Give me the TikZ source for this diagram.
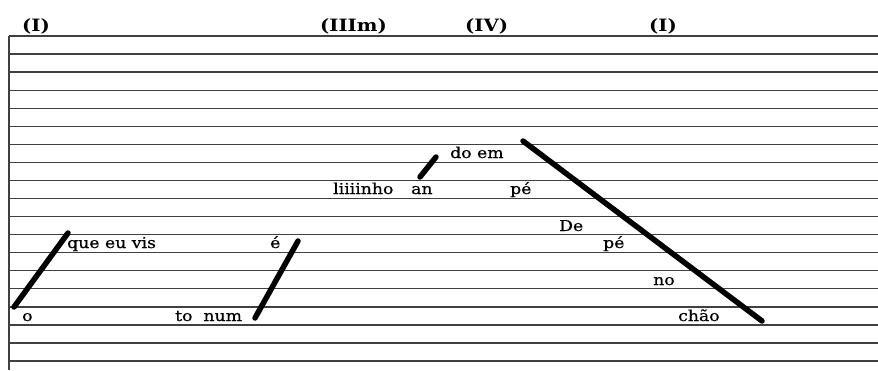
\documentclass[tikz,border=0pt]{standalone}
\usepackage{fontspec}
\newfontfamily\wfont[FakeStretch=1.15,FakeBold=0.6]{DejaVu Serif}
\newfontfamily\hfont[FakeStretch=1.15]{DejaVu Serif}
\begin{document}
\begin{tikzpicture}[x=1pt,y=-1pt,
  word/.style={font=\wfont\fontsize{15}{15}\selectfont, anchor=base west, inner sep=0pt},
  head/.style={font=\hfont\bfseries\fontsize{17}{17}\selectfont, anchor=base west, inner sep=0pt},
  rule/.style={black!75, line width=1.3pt},
  stroke/.style={line width=5.5pt, line cap=round}]
\useasboundingbox (0,0) rectangle (878,370);
\fill[white] (0,0) rectangle (878,370);
\foreach \k in {0,...,18} \draw[rule] (9,{36+18.06*\k}) -- (878,{36+18.06*\k});
\draw[rule] (9,36) -- (9,370);
% headers
\node[head] (hIa) at (22,31) {(I)};
\node[head] (hIII) at (320,31) {(IIIm)};
\node[head] (hIV) at (465,31) {(IV)};
\node[head] (hIb) at (649,31) {(I)};
% words
\node[word] (w1) at (67,248) {que eu vis};
\node[word] (w2) at (270,248) {é};
\node[word] (w3) at (333,194) {liiiinho};
\node[word] (w4) at (411,194) {an};
\node[word] (w5) at (450,158) {do em};
\node[word] (w6) at (510,194) {pé};
\node[word] (w7) at (559,231) {De};
\node[word] (w8) at (603,248) {pé};
\node[word] (w9) at (653,285) {no};
\node[word] (w10) at (678,321) {chão};
\node[word] (w11) at (22,321) {o};
\node[word] (w12) at (175,321) {to\ \ num};
% strokes
\coordinate (s1a) at (14,307); \coordinate (s1b) at (68,233);
\coordinate (s2a) at (255,318); \coordinate (s2b) at (298,241);
\coordinate (s3a) at (420,177); \coordinate (s3b) at (436,157);
\coordinate (s4a) at (523,141); \coordinate (s4b) at (762,321);
\draw[stroke] (s1a) -- (s1b);
\draw[stroke] (s2a) -- (s2b);
\draw[stroke] (s3a) -- (s3b);
\draw[stroke] (s4a) -- (s4b);
\end{tikzpicture}
\end{document}
